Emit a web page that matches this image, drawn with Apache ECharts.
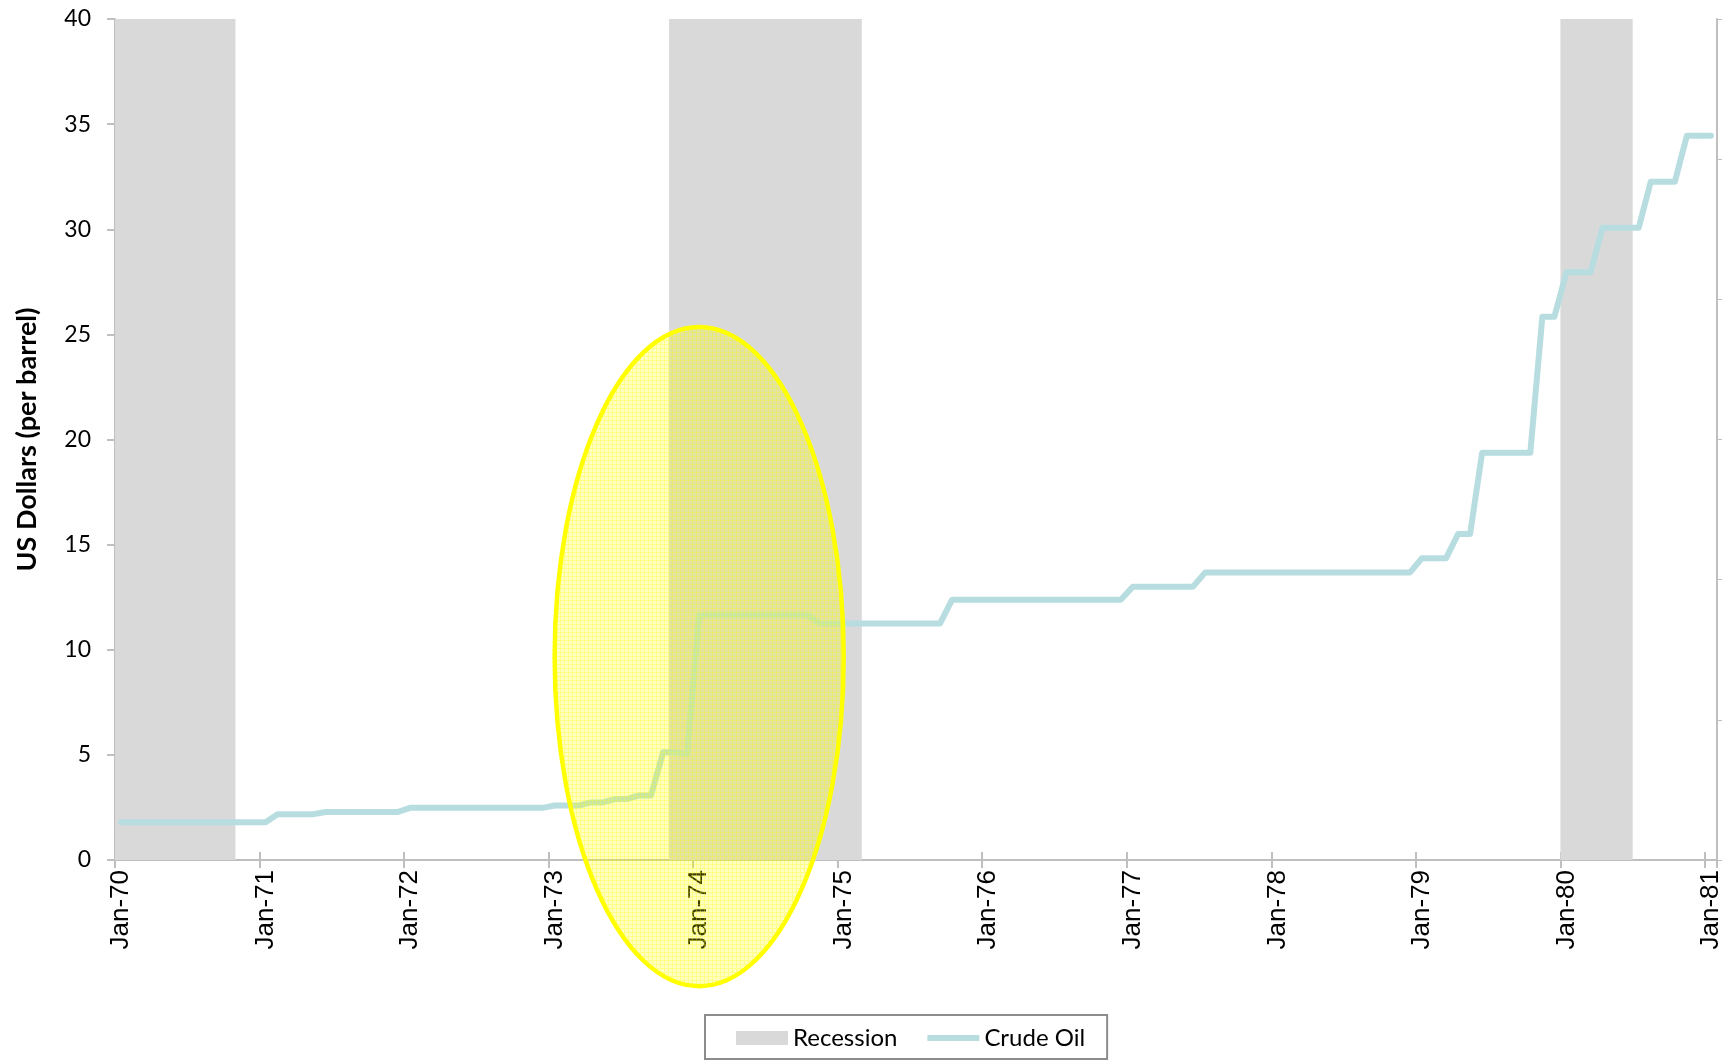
<!DOCTYPE html>
<html><head><meta charset="utf-8">
<script src="https://cdn.jsdelivr.net/npm/echarts@6/dist/echarts.min.js"></script>
<style>html,body{margin:0;padding:0;background:#fff}#c{width:1727px;height:1063px}</style>
</head><body><div id="c"></div>
<script>
// ---- data ----
const monthNames = ['Jan','Feb','Mar','Apr','May','Jun','Jul','Aug','Sep','Oct','Nov','Dec'];
const years = ['70','71','72','73','74','75','76','77','78','79','80'];
const finalMonth = 'Jan-81';

const oil1970 = [1.80,1.80,1.80,1.80,1.80,1.80,1.80,1.80,1.80,1.80,1.80,1.80];
const oil1971 = [1.80,2.18,2.18,2.18,2.18,2.285,2.285,2.285,2.285,2.285,2.285,2.285];
const oil1972 = [2.48,2.48,2.48,2.48,2.48,2.48,2.48,2.48,2.48,2.48,2.48,2.48];
const oil1973 = [2.59,2.59,2.59,2.74,2.74,2.90,2.90,3.07,3.07,5.12,5.12,5.04];
const oil1974 = [11.65,11.65,11.65,11.65,11.65,11.65,11.65,11.65,11.65,11.65,11.25,11.25];
const oil1975 = [11.25,11.25,11.25,11.25,11.25,11.25,11.25,11.25,11.25,12.38,12.38,12.38];
const oil1976 = [12.38,12.38,12.38,12.38,12.38,12.38,12.38,12.38,12.38,12.38,12.38,12.38];
const oil1977 = [13.0,13.0,13.0,13.0,13.0,13.0,13.67,13.67,13.67,13.67,13.67,13.67];
const oil1978 = [13.67,13.67,13.67,13.67,13.67,13.67,13.67,13.67,13.67,13.67,13.67,13.67];
const oil1979 = [14.35,14.35,14.35,15.5,15.5,19.37,19.37,19.37,19.37,19.37,25.84,25.84];
const oil1980 = [27.95,27.95,27.95,30.07,30.07,30.07,30.07,32.26,32.26,32.26,34.45,34.45];
const oil1981 = [34.45];

const recessions = [['Jan-70','Oct-70'],['Nov-73','Feb-75'],['Jan-80','Jun-80']];
const recessionHeight = 40;

// highlighted region (data coordinates of the ellipse's bounding box)
const highlightFrom = 'Jan-73', highlightTo = 'Jan-75';
const highlightLow = -6.0, highlightHigh = 25.35;

// ---- build ----
const categories = [];
years.forEach(y => monthNames.forEach(m => categories.push(m + '-' + y)));
categories.push(finalMonth);
const oil = [].concat(oil1970,oil1971,oil1972,oil1973,oil1974,oil1975,oil1976,oil1977,oil1978,oil1979,oil1980,oil1981);
const recessionData = recessions.map(([a,b]) => [categories.indexOf(a), categories.indexOf(b), recessionHeight]);
const hx0 = categories.indexOf(highlightFrom), hx1 = categories.indexOf(highlightTo);

// pattern fill for the highlight
const pc = document.createElement('canvas'); pc.width = 4; pc.height = 4;
const pctx = pc.getContext('2d');
pctx.fillStyle = 'rgba(255,255,0,0.24)'; pctx.fillRect(0,0,4,4);
pctx.fillStyle = 'rgba(255,255,0,0.30)'; pctx.fillRect(0,0,4,1); pctx.fillRect(0,1,1,3);

const AX = '#bfbfbf';
const LINE = '#b7dde0';
const GRAY = '#d9d9d9';
const isJan = (i) => i % 12 === 0;
const lineIcon = 'path://M0,0L0.001,0L0,0.001Z M0,4L54,4L54,10L0,10Z M54,14L53.999,14L54,13.999Z';
const chart = echarts.init(document.getElementById('c'), null, {renderer:'canvas'});
chart.setOption({
  animation:false,
  backgroundColor:'#fff',
  grid:{left:115, right:10, top:19, bottom:203, containLabel:false},
  legend:{
    data:[{name:'Recession', icon:'rect', itemStyle:{color:GRAY}},{name:'Crude Oil', icon:lineIcon, itemStyle:{color:LINE}}],
    left:705, top:1015, orient:'horizontal',
    itemWidth:52, itemHeight:14, itemGap:30,
    padding:[11,22,9,31],
    borderColor:'#8c8c8c', borderWidth:2,
    textStyle:{fontFamily:'Lato', fontSize:24, color:'#000'}
  },
  xAxis:[
    {type:'category', data:categories, boundaryGap:true, position:'bottom',
     axisLine:{lineStyle:{color:AX, width:2}},
     axisTick:{show:true, interval:isJan, length:8, lineStyle:{color:AX, width:2}},
     axisLabel:{interval:isJan, rotate:90, margin:10, fontFamily:'Liberation Sans', fontSize:26, color:'#000'},
     splitLine:{show:false}},
    {type:'category', data:categories, boundaryGap:true, position:'top',
     axisLine:{show:true, lineStyle:{color:AX, width:2}}, axisTick:{show:false}, axisLabel:{show:false}},
    {type:'category', data:categories, boundaryGap:true, position:'bottom',
     axisLine:{show:false},
     axisTick:{show:true, inside:true, interval:isJan, length:8, lineStyle:{color:AX, width:2}},
     axisLabel:{show:false}}
  ],
  yAxis:[
    {type:'value', min:0, max:40, interval:5,
     axisLine:{show:true, lineStyle:{color:AX, width:2}},
     axisTick:{show:true, length:8, lineStyle:{color:AX, width:2}},
     axisLabel:{margin:24, fontFamily:'Lato', fontSize:23, color:'#000'},
     splitLine:{show:false},
     name:'US Dollars (per barrel)', nameLocation:'middle', nameGap:74, nameRotate:90,
     nameTextStyle:{fontFamily:'Lato', fontWeight:'bold', fontSize:27, color:'#000'}},
    {type:'value', min:0, max:6, interval:1, position:'right',
     axisLine:{show:true, lineStyle:{color:AX, width:2}},
     axisTick:{show:true, length:5, lineStyle:{color:AX, width:1}},
     axisLabel:{show:false}, splitLine:{show:false}}
  ],
  series:[
    {name:'Recession', type:'custom', data:recessionData, z:1, itemStyle:{color:GRAY},
     encode:{x:[0,1], y:2},
     renderItem:function(params, api){
       const band = api.size([1,0])[0];
       const a = api.coord([api.value(0), api.value(2)]);
       const b = api.coord([api.value(1), 0]);
       return {type:'rect', shape:{x:a[0]-band/2, y:a[1], width:b[0]-a[0]+band, height:b[1]-a[1]},
               style:{fill:GRAY}};
     }},
    {name:'Crude Oil', type:'line', data:oil, symbol:'none', showSymbol:false,
     lineStyle:{color:LINE, width:6, cap:'round', join:'round'}, itemStyle:{color:LINE}, z:3},
    {name:'highlight', type:'custom', data:[[hx0, highlightLow, hx1, highlightHigh]], clip:false, silent:true, z:5,
     renderItem:function(params, api){
       const p0 = api.coord([api.value(0), api.value(1)]);
       const p1 = api.coord([api.value(2), api.value(3)]);
       return {type:'ellipse', shape:{cx:(p0[0]+p1[0])/2, cy:(p0[1]+p1[1])/2, rx:Math.abs(p1[0]-p0[0])/2, ry:Math.abs(p1[1]-p0[1])/2},
               style:{fill:{image:pc, repeat:'repeat'}, stroke:'#ffff00', lineWidth:4.5}};
     }}
  ]
});
</script></body></html>
